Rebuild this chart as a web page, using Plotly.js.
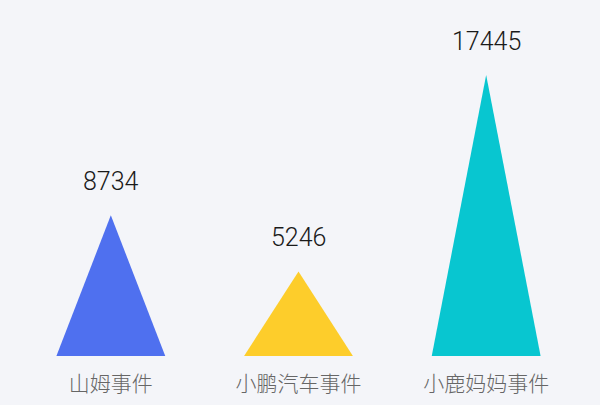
<!DOCTYPE html>
<html>
<head>
<meta charset="utf-8">
<script src="https://cdn.plot.ly/plotly-3.0.1.min.js"></script>
<style>
html,body{margin:0;padding:0;background:#f4f5f9;}
#chart{width:600px;height:405px;}
</style>
</head>
<body>
<div id="chart"></div>
<script>
const categories = ['山姆事件', '小鹏汽车事件', '小鹿妈妈事件'];
const values = [8734, 5246, 17445];
const colors = ['#4f70ef', '#fdcd2b', '#08c6d0'];

const halfWidth = 0.29;
const traces = categories.map((c, i) => ({
  type: 'scatter',
  mode: 'lines',
  x: [i - halfWidth, i, i + halfWidth, i - halfWidth],
  y: [0, values[i], 0, 0],
  fill: 'toself',
  fillcolor: colors[i],
  line: {width: 0, color: colors[i]},
  hoverinfo: 'skip',
  showlegend: false
}));

const annotations = values.map((v, i) => ({
  x: i, y: v, xref: 'x', yref: 'y',
  text: String(v),
  showarrow: false,
  yanchor: 'middle',
  yshift: 34,
  font: {family: 'Roboto, "Liberation Sans", sans-serif', size: 25, weight: 300, color: '#1a1a1a'}
}));

const layout = {
  width: 600, height: 405,
  paper_bgcolor: '#f4f5f9',
  plot_bgcolor: '#f4f5f9',
  margin: {l: 17, r: 20, t: 20, b: 49},
  showlegend: false,
  xaxis: {
    range: [-0.5, 2.5],
    tickvals: categories.map((c, i) => i),
    ticktext: categories,
    showgrid: false, zeroline: false, showline: false,
    ticks: '', ticklabelstandoff: 13,
    tickfont: {family: '"Noto Sans CJK SC", sans-serif', size: 21, weight: 300, color: '#666666'},
    fixedrange: true
  },
  yaxis: {
    range: [0, 20860],
    showgrid: false, zeroline: false, showline: false,
    showticklabels: false, ticks: '',
    fixedrange: true
  },
  annotations: annotations
};

Plotly.newPlot('chart', traces, layout, {displayModeBar: false, staticPlot: true});
</script>
</body>
</html>
